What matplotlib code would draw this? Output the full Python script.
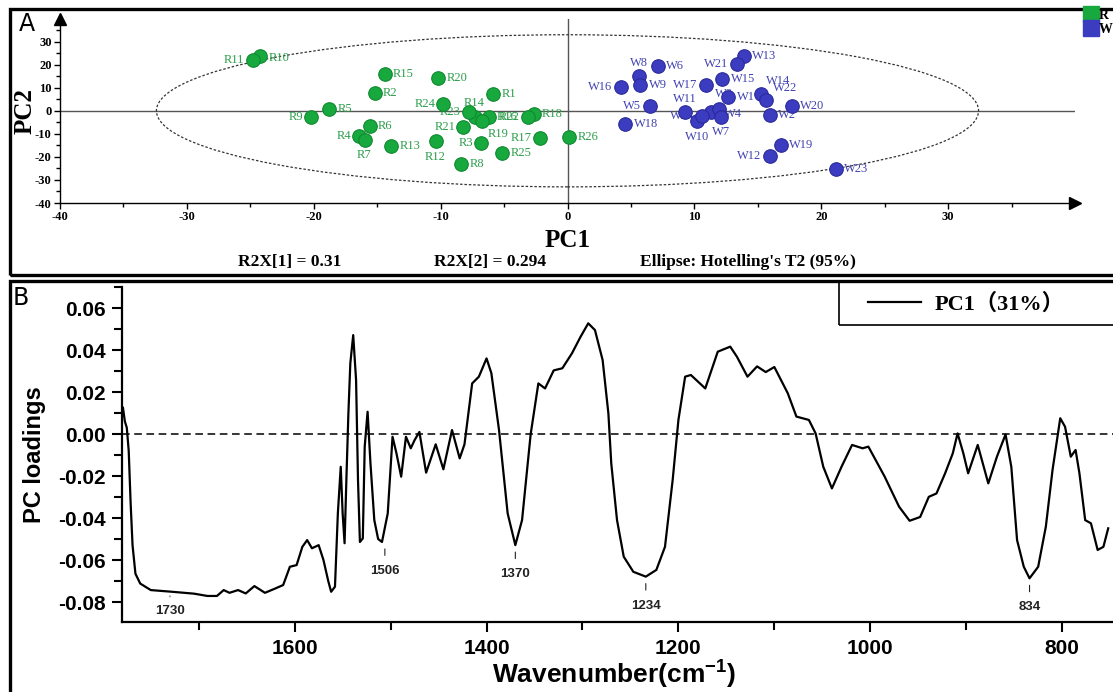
import matplotlib
matplotlib.use("Agg")
import matplotlib.pyplot as plt
from matplotlib.patches import Ellipse, Rectangle
from matplotlib.lines import Line2D
import numpy as np

## DATI ##
# Pannello A: score plot PC1/PC2
r_names = ['R%d' % i for i in range(1, 27)]
r_pc1 = [-5.86, -15.2, -6.78, -16.4, -18.8, -15.6, -16.0, -8.36, -20.2, -24.2,
         -24.8, -10.4, -13.9, -7.33, -14.4, -6.2, -2.13, -2.66, -6.73, -10.17,
         -8.2, -3.13, -7.78, -9.78, -5.15, 0.13]
r_pc2 = [7.36, 7.7, -14.0, -10.8, 0.9, -6.5, -12.6, -23.2, -2.7, 23.9,
         22.1, -13.3, -15.4, -2.7, 16.0, -2.5, -11.8, -1.6, -4.6, 14.4,
         -7.2, -2.7, -0.43, 3.03, -18.5, -11.4]

w_names = ['W%d' % i for i in range(1, 25)]
w_pc1 = [12.67, 15.93, 11.28, 11.91, 6.47, 7.12, 12.09, 5.60, 5.73, 10.23,
         9.23, 15.93, 13.88, 15.22, 12.20, 4.18, 10.88, 4.57, 16.80, 17.69,
         13.35, 15.62, 21.14, 10.62]
w_pc2 = [5.8, -1.7, -0.4, 0.9, 1.9, 19.6, -2.7, 14.9, 11.3, -4.6,
         -0.7, -19.4, 23.9, 7.4, 14.0, 10.3, 11.3, -5.6, -14.7, 2.2,
         20.3, 4.5, -25.2, -2.2]

ell_a, ell_b = 32.4, 33.0   # semiassi ellisse Hotelling T2
r2x = ['R2X[1] = 0.31', 'R2X[2] = 0.294', "Ellipse: Hotelling's T2 (95%)"]

# Pannello B: loadings PC1
wn = [1779, 1777, 1775, 1773, 1771, 1769, 1766, 1761, 1750, 1728, 1705, 1691, 1681,
      1674, 1668, 1659, 1651, 1642, 1631, 1620, 1612, 1605, 1598, 1592, 1587, 1582,
      1575, 1570, 1565, 1562, 1558, 1555, 1552, 1550, 1548, 1546, 1544, 1542, 1539,
      1536, 1534, 1532, 1529, 1527, 1524, 1521, 1517, 1513, 1509, 1503, 1498, 1494,
      1489, 1484, 1479, 1475, 1470, 1463, 1453, 1445, 1436, 1428, 1423, 1415, 1408,
      1400, 1395, 1387, 1378, 1370, 1363, 1354, 1346, 1339, 1330, 1321, 1311, 1302,
      1294, 1287, 1279, 1273, 1270, 1264, 1257, 1247, 1234, 1223, 1214, 1206, 1200,
      1193, 1187, 1172, 1159, 1146, 1139, 1128, 1118, 1109, 1100, 1086, 1077, 1064,
      1057, 1049, 1040, 1030, 1019, 1008, 1002, 985, 970, 959, 948, 939, 931, 922,
      914, 909, 903, 898, 888, 877, 868, 859, 853, 847, 840, 834, 825, 817, 810,
      802, 797, 791, 786, 782, 776, 770, 763, 757, 752]
pc1_load = [0.0125, 0.0060, 0.0030, -0.0080, -0.0330, -0.0530, -0.0665, -0.0712, -0.0743,
            -0.0751, -0.0760, -0.0771, -0.0771, -0.0743, -0.0756, -0.0743, -0.0759, -0.0724,
            -0.0756, -0.0735, -0.0719, -0.0632, -0.0624, -0.0537, -0.0505, -0.0544, -0.0529,
            -0.0600, -0.0700, -0.0751, -0.0727, -0.0378, -0.0156, -0.0378, -0.0520, -0.0200,
            0.0100, 0.0337, 0.0471, 0.0257, -0.0219, -0.0514, -0.0497, -0.0060, 0.0106,
            -0.0140, -0.0410, -0.0500, -0.0514, -0.0378, -0.0013, -0.0090, -0.0203, -0.0013,
            -0.0068, -0.0029, 0.0010, -0.0184, -0.0049, -0.0168, 0.0019, -0.0116, -0.0049,
            0.0241, 0.0273, 0.0360, 0.0290, 0.0019, -0.0378, -0.0529, -0.0410, 0.0000,
            0.0241, 0.0217, 0.0303, 0.0313, 0.0384, 0.0463, 0.0527, 0.0495, 0.0352,
            0.0098, -0.0140, -0.0410, -0.0584, -0.0656, -0.0679, -0.0647, -0.0537, -0.0219,
            0.0067, 0.0273, 0.0281, 0.0217, 0.0392, 0.0416, 0.0368, 0.0273, 0.0322,
            0.0295, 0.0319, 0.0194, 0.0083, 0.0067, 0.0003, -0.0156, -0.0259, -0.0156,
            -0.0052, -0.0068, -0.0060, -0.0203, -0.0346, -0.0413, -0.0395, -0.0299, -0.0283,
            -0.0187, -0.0092, 0.0003, -0.0092, -0.0187, -0.0052, -0.0235, -0.0108, -0.0002,
            -0.0156, -0.0505, -0.0632, -0.0687, -0.0632, -0.0441, -0.0170, 0.0075, 0.0035,
            -0.0108, -0.0076, -0.0187, -0.0410, -0.0425, -0.0552, -0.0537, -0.0449]

peak_wn = [1730, 1506, 1370, 1234, 834]
peak_val = [-0.0751, -0.0514, -0.0529, -0.0679, -0.0687]

## STILE ##
W, H = 1113, 692
SERIF = 'Liberation Serif'
SANS = 'Liberation Sans'
GREEN, GREEN_E, GREEN_T = '#17a83e', '#0e8a2e', '#2b9e4a'
BLUE, BLUE_E, BLUE_T = '#3c3cc0', '#2a2a9c', '#4242b2'

plt.rcParams['axes.unicode_minus'] = False
plt.rcParams['mathtext.fontset'] = 'custom'
plt.rcParams['mathtext.rm'] = 'Liberation Sans:bold'
plt.rcParams['mathtext.default'] = 'rm'


def fx(px):
    return px / W


def fy(py):
    return 1 - py / H


# posizione etichette: r=destra, l=sinistra, a=sopra, b=sotto, oppure (dx, dy, ha)
lab_pos = {'R11': 'l', 'R9': 'l', 'R4': 'l', 'R24': 'l', 'R23': 'l', 'R21': 'l',
           'R3': 'l', 'R17': 'l', 'R22': 'l', 'R7': 'b', 'R12': 'b', 'R14': 'a',
           'R10': (6, -2, 'left'), 'R19': (4, -9, 'left'),
           'W21': 'l', 'W16': 'l', 'W17': 'l', 'W5': 'l', 'W12': 'l', 'W24': 'l',
           'W10': 'b', 'W7': 'b', 'W8': 'a', 'W11': 'a',
           'W14': (4, 9, 'left'), 'W22': (5, 9, 'left'), 'W3': (3, 13, 'left'),
           'W4': (4, -4, 'left')}
offs = {'r': (6, 0, 'left'), 'l': (-6, 0, 'right'), 'a': (0, 10, 'center'),
        'b': (0, -11, 'center')}

fig = plt.figure(figsize=(W / 100, H / 100), dpi=100)

# cornici dei pannelli
fig.add_artist(Rectangle((fx(10), fy(275)), fx(1140) - fx(10), fy(9) - fy(275),
                         fill=False, lw=2.4, ec='k', transform=fig.transFigure))
fig.add_artist(Rectangle((fx(10), fy(760)), fx(1140) - fx(10), fy(281) - fy(760),
                         fill=False, lw=2.4, ec='k', transform=fig.transFigure))
fig.text(fx(27), fy(24), 'A', fontsize=17, family='DejaVu Sans', ha='center', va='center')
fig.text(fx(21), fy(298), 'B', fontsize=17, family='DejaVu Sans', ha='center', va='center')

## PANNELLO A ##
axA = fig.add_axes([fx(60), fy(203), fx(1075) - fx(60), fy(18.6) - fy(203)])
axA.set_xlim(-40, 40)
axA.set_ylim(-40, 40)
axA.patch.set_alpha(0)
for s in ['top', 'right']:
    axA.spines[s].set_visible(False)
for s in ['left', 'bottom']:
    axA.spines[s].set_linewidth(1.0)
axA.plot(1, 0, marker='>', ms=8, color='k', transform=axA.transAxes, clip_on=False)
axA.plot(0, 1, marker='^', ms=8, color='k', transform=axA.transAxes, clip_on=False)
axA.axhline(0, color='#555555', lw=1.0, zorder=1)
axA.axvline(0, color='#555555', lw=1.0, zorder=1)
axA.add_patch(Ellipse((0, 0), 2 * ell_a, 2 * ell_b, fill=False, ls=(0, (2, 1.5)),
                      lw=0.9, ec='#333333', zorder=1))

axA.set_xticks(np.arange(-40, 40, 10))
axA.set_xticks(np.arange(-35, 40, 10), minor=True)
axA.set_yticks(np.arange(-40, 40, 10))
axA.set_yticks(np.arange(-35, 40, 10), minor=True)
axA.tick_params(which='major', length=4, width=1, direction='out', pad=2)
axA.tick_params(which='minor', length=3, width=1, direction='out')
for lab in axA.get_xticklabels() + axA.get_yticklabels():
    lab.set_fontfamily(SERIF)
    lab.set_fontweight('bold')
    lab.set_fontsize(9)

axA.scatter(r_pc1, r_pc2, s=95, c=GREEN, edgecolors=GREEN_E, linewidths=0.8, zorder=3)
axA.scatter(w_pc1, w_pc2, s=95, c=BLUE, edgecolors=BLUE_E, linewidths=0.8, zorder=3)

for names, xs, ys, col in [(r_names, r_pc1, r_pc2, GREEN_T), (w_names, w_pc1, w_pc2, BLUE_T)]:
    for n, x, y in zip(names, xs, ys):
        p = lab_pos.get(n, 'r')
        dx, dy, ha = offs[p] if isinstance(p, str) else p
        axA.annotate(n, (x, y), xytext=(dx, dy), textcoords='offset points', ha=ha,
                     va='center', fontsize=9, family=SERIF, color=col, zorder=2)

fig.text(fx(568), fy(240), 'PC1', fontsize=18, family=SERIF, weight='bold', ha='center', va='center')
fig.text(fx(25), fy(111), 'PC2', fontsize=18, family=SERIF, weight='bold', ha='center',
         va='center', rotation=90)
for t, xp in zip(r2x, [290, 490, 748]):
    fig.text(fx(xp), fy(262), t, fontsize=12.5, family=SERIF, weight='bold', ha='center', va='center')

hA = [Line2D([], [], marker='s', ls='', color=GREEN, ms=11),
      Line2D([], [], marker='s', ls='', color=BLUE, ms=11)]
fig.legend(hA, ['R', 'W'], loc='upper left', bbox_to_anchor=(fx(1084), fy(9)), frameon=False,
           handletextpad=0.1, labelspacing=0.05, borderaxespad=0, borderpad=0, handlelength=1.0,
           prop={'family': SERIF, 'weight': 'bold', 'size': 10})

## PANNELLO B ##
axB = fig.add_axes([fx(122), fy(622), fx(1113) - fx(122), fy(287) - fy(622)])
axB.set_xlim(1780, 747)
axB.set_ylim(-0.0895, 0.07)
axB.patch.set_alpha(0)
for s in ['top', 'right']:
    axB.spines[s].set_visible(False)
for s in ['left', 'bottom']:
    axB.spines[s].set_linewidth(1.6)
axB.plot(wn, pc1_load, color='k', lw=1.6, label='PC1\uff0831%\uff09')
axB.axhline(0, color='k', lw=1.1, ls=(0, (5, 3)))

axB.set_xticks([1600, 1400, 1200, 1000, 800])
axB.set_xticks([1700, 1500, 1300, 1100, 900], minor=True)
yt = np.arange(-0.08, 0.061, 0.02)
axB.set_yticks(yt)
axB.set_yticklabels(['%.2f' % v if abs(v) > 1e-9 else '0.00' for v in yt])
axB.set_yticks(np.arange(-0.07, 0.071, 0.02), minor=True)
axB.tick_params(which='major', length=7, width=1.5, direction='out', pad=5)
axB.tick_params(which='minor', length=6, width=1.5, direction='out')
for lab in axB.get_xticklabels() + axB.get_yticklabels():
    lab.set_fontfamily(SANS)
    lab.set_fontweight('bold')
    lab.set_fontsize(15)

for p, v in zip(peak_wn, peak_val):
    if p == 1730:
        axB.annotate(str(p), (p, v), xytext=(0, -14), textcoords='offset points', ha='center',
                     va='center', fontsize=9.5, family=SANS, weight='bold', color='#222222',
                     arrowprops=dict(arrowstyle='-', lw=0.8, color='#555555', shrinkA=4, shrinkB=3))
    else:
        axB.annotate(str(p), (p, v), xytext=(0, -21), textcoords='offset points', ha='center',
                     va='center', fontsize=9.5, family=SANS, weight='bold', color='#222222',
                     arrowprops=dict(arrowstyle='-', lw=0.8, color='#222222', shrinkA=5, shrinkB=5))

fig.text(fx(35), fy(455), 'PC loadings', fontsize=17, family=SANS, weight='bold', ha='center',
         va='center', rotation=90)
fig.text(fx(614), fy(675), 'Wavenumber(cm$^{-1}$)', fontsize=19, family=SANS, weight='bold',
         ha='center', va='center')

# legenda pannello B
fig.add_artist(Rectangle((fx(839), fy(325)), fx(1140) - fx(839), fy(281) - fy(325),
                         fill=False, lw=1.2, ec='k', transform=fig.transFigure))
fig.legend(loc='center left', bbox_to_anchor=(fx(868), fy(304)), frameon=False,
           handlelength=2.4, handletextpad=0.6, borderaxespad=0, borderpad=0,
           prop={'family': [SERIF, 'Noto Sans CJK SC'], 'weight': 'bold', 'size': 16})

fig.savefig('out.png', dpi=100)
